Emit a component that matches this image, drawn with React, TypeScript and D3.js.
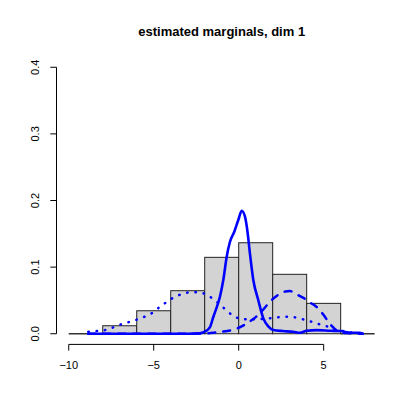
import React from 'react';
import * as d3 from 'd3';

// histogram: bin edges and densities
const breaks = [-10, -8, -6, -4, -2, 0, 2, 4, 6, 8];
const densities = [0, 0.012, 0.0345, 0.0646, 0.1147, 0.1366, 0.0892, 0.0456, 0];

// solid curve
const solidX = [-8.85, -3, -2.3, -2.0, -1.69, -1.49, -1.29, -1.1, -0.906, -0.706, -0.512, -0.259, -0.024, 0.176, 0.37, 0.53, 0.66, 0.86, 1.15, 1.45, 1.74, 2.04, 2.6, 3.2, 3.6, 4.0, 4.6, 5.4, 6.0, 6.6, 7.1, 7.3];
const solidY = [0, 0, 0.0006, 0.003, 0.01, 0.0255, 0.04, 0.056, 0.0806, 0.1156, 0.1381, 0.1532, 0.1707, 0.1847, 0.1757, 0.1507, 0.1207, 0.0806, 0.0506, 0.0231, 0.011, 0.0055, 0.004, 0.003, 0.0015, 0.0045, 0.0055, 0.0045, 0.004, 0.0015, 0.0015, 0];

// dashed curve
const dashedX = [-8.85, -3, -2, -1.5, -1, -0.5, 0, 0.5, 1.0, 1.25, 1.5, 1.75, 2.0, 2.25, 2.5, 2.75, 3.0, 3.25, 3.5, 3.75, 4.0, 4.25, 4.5, 4.75, 5.0, 5.25, 5.5, 5.75, 6.0, 6.5, 7.0, 7.3];
const dashedY = [0, 0, 0.0005, 0.0015, 0.003, 0.005, 0.009, 0.016, 0.025, 0.031, 0.038, 0.0455, 0.052, 0.057, 0.061, 0.0635, 0.064, 0.062, 0.058, 0.0545, 0.051, 0.046, 0.042, 0.036, 0.028, 0.019, 0.011, 0.005, 0.002, 0.0008, 0.0003, 0];

// dotted curve
const dottedX = [-8.85, -8.35, -7.86, -7.38, -6.88, -6.39, -5.9, -5.41, -4.98, -4.59, -4.18, -3.75, -3.26, -2.76, -2.28, -1.79, -1.39, -1.0, -0.61, -0.22, 0.27, 0.76, 1.25, 1.78, 2.27, 2.8, 3.31, 3.8, 4.29, 4.78, 5.27, 5.76, 6.25, 6.74, 7.24];
const dottedY = [0.003, 0.004, 0.0055, 0.0095, 0.0145, 0.018, 0.022, 0.027, 0.033, 0.0415, 0.0485, 0.0555, 0.06, 0.0625, 0.062, 0.057, 0.05, 0.0415, 0.0325, 0.0255, 0.022, 0.0216, 0.022, 0.023, 0.0246, 0.0255, 0.0246, 0.0216, 0.018, 0.014, 0.0105, 0.006, 0.0035, 0.0015, 0.0006];

const xTicks = [-10, -5, 0, 5];
const yTicks = [0, 0.1, 0.2, 0.3, 0.4];

const W = 415;
const H = 415;
const font = 'Liberation Sans, Arial, Helvetica, sans-serif';

export default function App() {
  const x = d3.scaleLinear().domain([-10.72, 8.72]).range([56.5, 386.9]);
  const y = d3.scaleLinear().domain([-0.016, 0.416]).range([344.4, 56.6]);

  const line = d3.line<[number, number]>()
    .x(d => x(d[0]))
    .y(d => y(d[1]))
    .curve(d3.curveMonotoneX);

  const zip = (xs: number[], ys: number[]) => xs.map((v, i) => [v, ys[i]] as [number, number]);

  const fmtX = (v: number) => (v < 0 ? '\u2212' + Math.abs(v) : String(v));

  return (
    <svg width={W} height={H} style={{ position: 'absolute', left: 0, top: 0, background: '#fff' }}>
      <rect width={W} height={H} fill="#fff" />
      <text x={221.7} y={36} textAnchor="middle" fontFamily={font} fontWeight="bold" fontSize={13}>
        estimated marginals, dim 1
      </text>

      {/* histogram; empty bins still show their edge */}
      {densities.map((d, i) =>
        d > 0 ? (
          <rect
            key={i}
            x={x(breaks[i])}
            y={y(d)}
            width={x(breaks[i + 1]) - x(breaks[i])}
            height={y(0) - y(d)}
            fill="#d3d3d3"
            stroke="#222"
            strokeWidth={1}
          />
        ) : (
          <line
            key={i}
            x1={x(breaks[i])}
            x2={x(breaks[i + 1])}
            y1={y(0)}
            y2={y(0)}
            stroke="#333"
            strokeWidth={1.5}
          />
        )
      )}

      {/* density curves */}
      <path d={line(zip(dottedX, dottedY)) || ''} fill="none" stroke="#0000ff" strokeWidth={2.5}
        strokeLinecap="round" strokeDasharray="0.5,7.8" />
      <path d={line(zip(dashedX, dashedY)) || ''} fill="none" stroke="#0000ff" strokeWidth={2.5}
        strokeLinecap="round" strokeDasharray="7,8" />
      <path d={line(zip(solidX, solidY)) || ''} fill="none" stroke="#0000ff" strokeWidth={2.6}
        strokeLinecap="round" strokeLinejoin="round" />

      {/* x axis */}
      <line x1={x(-10)} x2={x(5)} y1={344.4} y2={344.4} stroke="#000" />
      {xTicks.map(t => (
        <g key={t}>
          <line x1={x(t)} x2={x(t)} y1={344.4} y2={350.6} stroke="#000" />
          <text x={x(t)} y={369} textAnchor="middle" fontFamily={font} fontSize={11}>{fmtX(t)}</text>
        </g>
      ))}

      {/* y axis */}
      <line x1={56.5} x2={56.5} y1={y(0)} y2={y(0.4)} stroke="#000" />
      {yTicks.map(t => (
        <g key={t}>
          <line x1={50.3} x2={56.5} y1={y(t)} y2={y(t)} stroke="#000" />
          <text transform={`translate(39,${y(t)}) rotate(-90)`} textAnchor="middle" fontFamily={font} fontSize={11}>
            {t.toFixed(1)}
          </text>
        </g>
      ))}
    </svg>
  );
}
